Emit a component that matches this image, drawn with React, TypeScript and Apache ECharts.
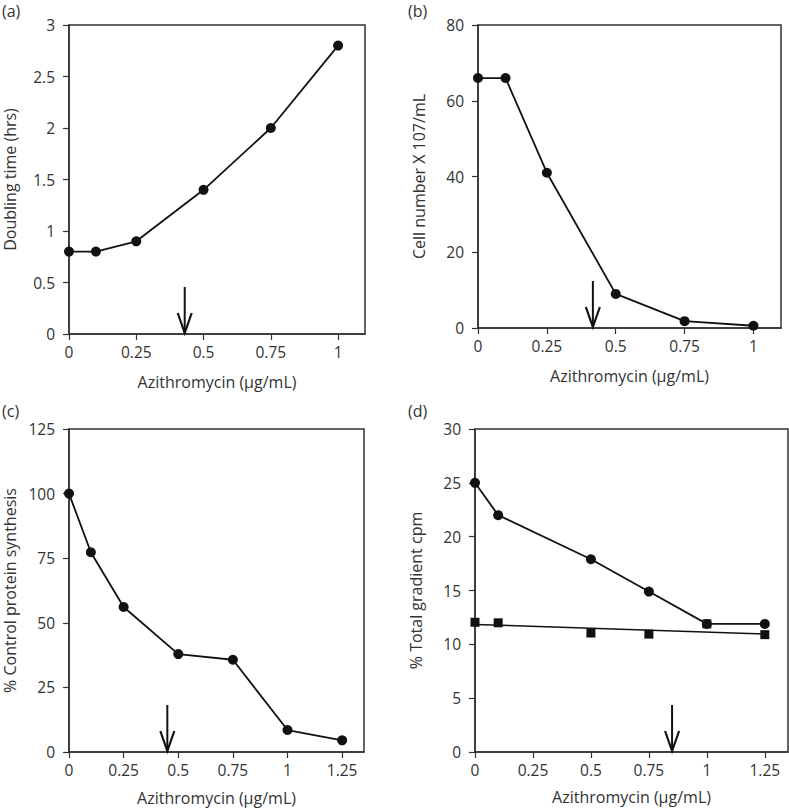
import React, { useEffect, useRef } from 'react';
import * as echarts from 'echarts';

// ---- data ----
const xA = [0, 0.1, 0.25, 0.5, 0.75, 1];
const doublingTime = [0.8, 0.8, 0.9, 1.4, 2.0, 2.8];
const xB = [0, 0.1, 0.25, 0.5, 0.75, 1];
const cellNumber = [66, 66, 41, 9, 1.8, 0.6];
const xC = [0, 0.1, 0.25, 0.5, 0.75, 1, 1.25];
const proteinSynthesis = [100, 77.3, 56.1, 37.9, 35.7, 8.5, 4.5];
const xD = [0, 0.1, 0.5, 0.75, 1, 1.25];
const gradientCircles = [25, 22, 17.9, 14.9, 11.9, 11.9];
const gradientSquares = [12.05, 12.0, 11.05, 10.95, 11.9, 10.9];
const fitLineX = [0, 1.25];
const fitLineY = [11.85, 10.95];
const arrowX = [0.43, 0.417, 0.45, 0.85];
const xTicksAB = [0, 0.25, 0.5, 0.75, 1];
const xTicksCD = [0, 0.25, 0.5, 0.75, 1, 1.25];
const xMax = [1.1, 1.1, 1.35, 1.35];
const yMax = [3, 80, 125, 30];
const yInterval = [0.5, 20, 25, 5];
const panelLabels = ['(a)', '(b)', '(c)', '(d)'];
const yNames = ['Doubling time (hrs)', 'Cell number X 107/mL', '% Control protein synthesis', '% Total gradient cpm'];
const xName = 'Azithromycin (μg/mL)';

const FONT = 'Open Sans';
const TXT = '#333';
const INK = '#111';
const TICK_FS = 15.5;
const NAME_FS = 16;

const grids = [
  { left: 69, top: 25, width: 296, height: 309 },
  { left: 478, top: 25, width: 303, height: 303 },
  { left: 69, top: 429, width: 295, height: 323 },
  { left: 475, top: 429, width: 313, height: 323 },
];
const yNameGap = [51, 51, 51, 51];
const xNameGap = [40, 40, 38, 37];
const labelPos = [
  { x: 2, y: 3 },
  { x: 408, y: 3 },
  { x: 2, y: 403 },
  { x: 408, y: 403 },
];

const zip = (xs: number[], ys: number[]) => xs.map((x, i) => [x, ys[i]]);

function arrowRender(params: any, api: any) {
  const p = api.coord([api.value(0), api.value(1)]);
  const bx = p[0];
  const by = p[1] - 1;
  return {
    type: 'group',
    children: [
      { type: 'line', shape: { x1: bx, y1: by - 46, x2: bx, y2: by }, style: { stroke: INK, lineWidth: 2 } },
      {
        type: 'polyline',
        shape: { points: [[bx - 7, by - 20], [bx, by], [bx + 7, by - 20]] },
        style: { stroke: INK, lineWidth: 2.2, fill: 'none' },
      },
    ],
  };
}

export default function App() {
  const ref = useRef<HTMLDivElement>(null);
  useEffect(() => {
    if (!ref.current) return;
    const chart = echarts.init(ref.current, undefined, { renderer: 'svg' });
    const xAxis = grids.map((_, i) => ({
      type: 'value',
      gridIndex: i,
      min: 0,
      max: xMax[i],
      name: xName,
      nameLocation: 'middle',
      nameGap: xNameGap[i],
      nameTextStyle: { fontFamily: FONT, fontSize: NAME_FS, color: TXT },
      splitLine: { show: false },
      axisLine: { show: true, onZero: false, lineStyle: { color: '#333', width: 1.5 } },
      axisTick: { show: true, length: 6, lineStyle: { color: '#333', width: 1.2 }, customValues: i < 2 ? xTicksAB : xTicksCD },
      axisLabel: { fontFamily: FONT, fontSize: TICK_FS, color: TXT, margin: 10, customValues: i < 2 ? xTicksAB : xTicksCD },
    }));
    const yAxis = grids.map((_, i) => ({
      type: 'value',
      gridIndex: i,
      min: 0,
      max: yMax[i],
      interval: yInterval[i],
      name: yNames[i],
      nameLocation: 'middle',
      nameGap: yNameGap[i],
      nameTextStyle: { fontFamily: FONT, fontSize: NAME_FS, color: TXT },
      splitLine: { show: false },
      axisLine: { show: true, onZero: false, lineStyle: { color: '#333', width: 1.5 } },
      axisTick: { show: true, length: 6, lineStyle: { color: '#333', width: 1.2 } },
      axisLabel: { fontFamily: FONT, fontSize: TICK_FS, color: TXT, margin: 14 },
    }));
    const circleLine = (i: number, data: number[][]) => ({
      type: 'line',
      xAxisIndex: i,
      yAxisIndex: i,
      data,
      symbol: 'circle',
      symbolSize: 10,
      clip: false,
      lineStyle: { color: INK, width: 1.8 },
      itemStyle: { color: INK, opacity: 1 },
      z: 3,
    });
    const series: any[] = [
      circleLine(0, zip(xA, doublingTime)),
      circleLine(1, zip(xB, cellNumber)),
      circleLine(2, zip(xC, proteinSynthesis)),
      circleLine(3, zip(xD, gradientCircles)),
      {
        type: 'line',
        xAxisIndex: 3,
        yAxisIndex: 3,
        data: zip(fitLineX, fitLineY),
        symbol: 'none',
        lineStyle: { color: INK, width: 1.5 },
        z: 2,
      },
      {
        type: 'scatter',
        xAxisIndex: 3,
        yAxisIndex: 3,
        data: zip(xD, gradientSquares),
        symbol: 'rect',
        symbolSize: 9,
        itemStyle: { color: INK, opacity: 1 },
        z: 5,
      },
      ...arrowX.map((ax, i) => ({
        type: 'custom',
        xAxisIndex: i,
        yAxisIndex: i,
        data: [[ax, 0]],
        renderItem: arrowRender,
        clip: false,
        z: 4,
      })),
    ];
    chart.setOption({
      animation: false,
      backgroundColor: '#fff',
      grid: grids.map((g) => ({ ...g, show: true, borderColor: '#333', borderWidth: 1.5, backgroundColor: 'transparent' })),
      xAxis,
      yAxis,
      series,
      graphic: panelLabels.map((t, i) => ({
        type: 'text',
        left: labelPos[i].x,
        top: labelPos[i].y,
        style: { text: t, fontFamily: FONT, fontSize: 16, fill: TXT },
      })),
    });
    return () => chart.dispose();
  }, []);
  return <div ref={ref} style={{ position: 'absolute', left: 0, top: 0, width: 789, height: 809 }} />;
}
